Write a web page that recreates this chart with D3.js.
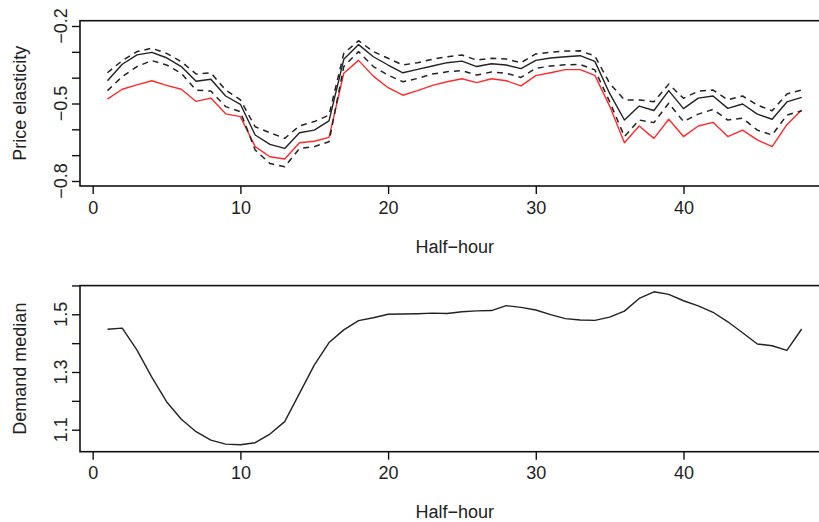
<!DOCTYPE html>
<html>
<head>
<meta charset="utf-8">
<script src="https://cdn.jsdelivr.net/npm/d3@7"></script>
<style>
  html, body { margin: 0; padding: 0; background: #fff; overflow: hidden; }
  text { font-family: "Liberation Sans", Arial, Helvetica, sans-serif; fill: #222; }
</style>
</head>
<body>
<svg id="chart" width="819" height="522"></svg>
<script>
// ---- data ----
const halfHours = d3.range(1, 49);

const elasticity = [
  -0.412, -0.348, -0.312, -0.302, -0.323, -0.357, -0.414, -0.406, -0.471, -0.503,
  -0.622, -0.658, -0.674, -0.613, -0.603, -0.567, -0.329, -0.272, -0.319, -0.351,
  -0.381, -0.368, -0.355, -0.342, -0.336, -0.357, -0.346, -0.351, -0.365, -0.333,
  -0.324, -0.319, -0.315, -0.337, -0.461, -0.564, -0.510, -0.527, -0.450, -0.520,
  -0.479, -0.471, -0.519, -0.502, -0.541, -0.561, -0.494, -0.476
];
const elasticityUpper = [
  -0.381, -0.334, -0.299, -0.286, -0.306, -0.338, -0.386, -0.381, -0.448, -0.486,
  -0.590, -0.613, -0.635, -0.587, -0.570, -0.545, -0.306, -0.257, -0.299, -0.325,
  -0.351, -0.342, -0.329, -0.319, -0.312, -0.332, -0.325, -0.328, -0.342, -0.308,
  -0.302, -0.297, -0.296, -0.316, -0.422, -0.486, -0.486, -0.493, -0.425, -0.480,
  -0.452, -0.448, -0.486, -0.471, -0.506, -0.528, -0.463, -0.448
];
const elasticityLower = [
  -0.450, -0.396, -0.357, -0.334, -0.351, -0.383, -0.448, -0.452, -0.512, -0.532,
  -0.680, -0.732, -0.745, -0.674, -0.667, -0.648, -0.357, -0.299, -0.357, -0.390,
  -0.416, -0.403, -0.386, -0.377, -0.373, -0.390, -0.378, -0.383, -0.399, -0.364,
  -0.355, -0.350, -0.349, -0.370, -0.493, -0.628, -0.564, -0.574, -0.499, -0.570,
  -0.541, -0.523, -0.564, -0.557, -0.603, -0.622, -0.545, -0.528
];
const elasticityRed = [
  -0.483, -0.445, -0.428, -0.412, -0.430, -0.445, -0.492, -0.479, -0.540, -0.551,
  -0.667, -0.706, -0.715, -0.652, -0.646, -0.631, -0.383, -0.333, -0.394, -0.439,
  -0.468, -0.450, -0.430, -0.416, -0.404, -0.419, -0.404, -0.412, -0.432, -0.392,
  -0.381, -0.369, -0.369, -0.391, -0.510, -0.652, -0.587, -0.635, -0.561, -0.628,
  -0.587, -0.573, -0.628, -0.603, -0.641, -0.667, -0.582, -0.525
];
const demandMedian = [
  1.448, 1.452, 1.376, 1.282, 1.197, 1.136, 1.093, 1.064, 1.050, 1.048,
  1.055, 1.085, 1.128, 1.226, 1.324, 1.402, 1.446, 1.478, 1.488, 1.500,
  1.501, 1.502, 1.504, 1.503, 1.509, 1.512, 1.513, 1.530, 1.524, 1.515,
  1.499, 1.485, 1.480, 1.479, 1.490, 1.511, 1.555, 1.578, 1.569, 1.547,
  1.529, 1.507, 1.474, 1.436, 1.397, 1.391, 1.375, 1.449
];

const xTicks = [0, 10, 20, 30, 40];
const topYTicks = [-0.8, -0.7, -0.6, -0.5, -0.4, -0.3, -0.2];
const topYLabels = [-0.8, -0.5, -0.2];
const botYTicks = [1.1, 1.2, 1.3, 1.4, 1.5, 1.6];
const botYLabels = [1.1, 1.3, 1.5];

const xTitle = "Half\u2212hour";
const topYTitle = "Price elasticity";
const botYTitle = "Demand median";

// ---- layout ----
const svg = d3.select("#chart");
const boxLeft = 80, boxRight = 829.5;
const fontSize = 18;
const tickLen = 8;
const fmt = v => (v < 0 ? "\u2212" : "") + Math.abs(v).toFixed(1);

const x = d3.scaleLinear().domain([0, 40]).range([92.7, 683.5]);

function panel(cfg) {
  const g = svg.append("g");
  const y = d3.scaleLinear().domain(cfg.yDomain).range(cfg.yRange);

  // data lines
  cfg.series.forEach(s => {
    const line = d3.line().x((d, i) => x(halfHours[i])).y(d => y(d));
    g.append("path")
      .datum(s.values)
      .attr("d", line)
      .attr("fill", "none")
      .attr("stroke", s.color)
      .attr("stroke-width", s.width || 1.4)
      .attr("stroke-dasharray", s.dash || null)
      .attr("stroke-linejoin", "round");
  });

  // box
  g.append("rect")
    .attr("x", boxLeft).attr("y", cfg.top)
    .attr("width", boxRight - boxLeft).attr("height", cfg.bottom - cfg.top)
    .attr("fill", "none").attr("stroke", "#111").attr("stroke-width", 1.6);

  // x axis
  const xa = g.append("g").attr("transform", `translate(0,${cfg.bottom})`)
    .call(d3.axisBottom(x).tickValues(xTicks).tickSize(tickLen).tickSizeOuter(0).tickFormat(d3.format("d")));
  xa.select(".domain").remove();
  xa.selectAll(".tick line").attr("stroke", "#111").attr("stroke-width", 1.4);
  xa.selectAll(".tick text").attr("y", 27.6).attr("dy", 0)
    .style("font-size", fontSize + "px").style("font-family", "'Liberation Sans', Arial, sans-serif").attr("fill", "#222");

  // y axis
  const ya = g.append("g").attr("transform", `translate(${boxLeft},0)`)
    .call(d3.axisLeft(y).tickValues(cfg.yTicks).tickSize(tickLen).tickSizeOuter(0).tickFormat(""));
  ya.select(".domain").remove();
  ya.selectAll(".tick line").attr("stroke", "#111").attr("stroke-width", 1.4);

  g.selectAll(".ylab").data(cfg.yLabels).enter().append("text")
    .attr("class", "ylab")
    .attr("transform", d => `translate(67,${y(d)}) rotate(-90)`)
    .attr("text-anchor", "middle")
    .style("font-size", fontSize + "px")
    .text(fmt);

  // titles
  g.append("text")
    .attr("x", (boxLeft + boxRight) / 2).attr("y", cfg.bottom + 66.6)
    .attr("text-anchor", "middle").style("font-size", fontSize + "px")
    .text(xTitle);
  g.append("text")
    .attr("transform", `translate(26,${(cfg.top + cfg.bottom) / 2}) rotate(-90)`)
    .attr("text-anchor", "middle").style("font-size", fontSize + "px")
    .text(cfg.yTitle);
}

panel({
  top: 20.7, bottom: 186,
  yDomain: [-0.8, -0.2], yRange: [181, 26],
  yTicks: topYTicks, yLabels: topYLabels, yTitle: topYTitle,
  series: [
    { values: elasticityRed, color: "#ff2a2a", width: 1.4 },
    { values: elasticityUpper, color: "#222", width: 1.5, dash: "6,5" },
    { values: elasticityLower, color: "#222", width: 1.5, dash: "6,5" },
    { values: elasticity, color: "#222", width: 1.4 }
  ]
});

panel({
  top: 285.6, bottom: 451.7,
  yDomain: [1.1, 1.5], yRange: [429.7, 314.3],
  yTicks: botYTicks, yLabels: botYLabels, yTitle: botYTitle,
  series: [
    { values: demandMedian, color: "#222", width: 1.4 }
  ]
});
</script>
</body>
</html>
